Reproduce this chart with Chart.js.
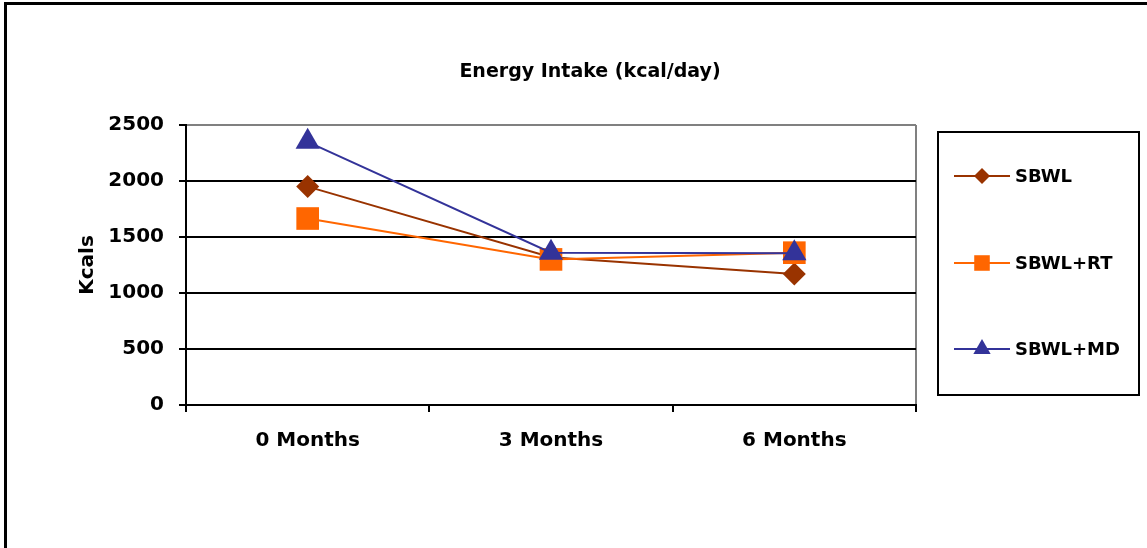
<!DOCTYPE html>
<html>
<head>
<meta charset="utf-8">
<script src="https://cdn.jsdelivr.net/npm/chart.js@4/dist/chart.umd.min.js"></script>
<style>
  html, body { margin: 0; padding: 0; background: #fff; }
  #wrap { position: relative; width: 1147px; height: 548px; overflow: hidden; }
  #frame { position: absolute; left: 4px; top: 2px; width: 1200px; height: 600px;
           border-top: 3px solid #000; border-left: 3px solid #000; pointer-events: none; }
  canvas { position: absolute; left: 0; top: 0; }
</style>
</head>
<body>
<div id="wrap">
  <canvas id="c" width="1147" height="548"></canvas>
  <div id="frame"></div>
</div>
<script>
// ---- data ----
const chartTitle = 'Energy Intake (kcal/day)';
const yAxisTitle = 'Kcals';
const categories = ['0 Months', '3 Months', '6 Months'];
const seriesNames = ['SBWL', 'SBWL+RT', 'SBWL+MD'];
const sbwl = [1950, 1320, 1170];
const sbwlRT = [1665, 1300, 1360];
const sbwlMD = [2350, 1360, 1355];
const yTicks = [0, 500, 1000, 1500, 2000, 2500];

const FONT = '"DejaVu Sans", sans-serif';

function fallbackPoint(ctx, style, r, x, y) {
  ctx.beginPath();
  if (style === 'rectRot') {
    ctx.moveTo(x - r, y); ctx.lineTo(x, y - r); ctx.lineTo(x + r, y); ctx.lineTo(x, y + r);
  } else if (style === 'rect') {
    const s = Math.SQRT1_2 * r; ctx.rect(x - s, y - s, 2 * s, 2 * s);
  } else {
    ctx.moveTo(x, y - r);
    ctx.lineTo(x + Math.sin(2 * Math.PI / 3) * r, y + 0.5 * r);
    ctx.lineTo(x - Math.sin(2 * Math.PI / 3) * r, y + 0.5 * r);
  }
  ctx.closePath();
  ctx.fill();
}

const titlePlugin = {
  id: 'customTitle',
  afterDraw(chart) {
    const ctx = chart.ctx;
    ctx.save();
    ctx.font = 'bold 19px ' + FONT;
    ctx.fillStyle = '#000';
    ctx.textAlign = 'center';
    ctx.textBaseline = 'alphabetic';
    ctx.fillText(chartTitle, 590, 77);
    ctx.restore();
  }
};

const legendPlugin = {
  id: 'customLegend',
  afterDraw(chart) {
    const ctx = chart.ctx;
    ctx.save();
    ctx.strokeStyle = '#000';
    ctx.lineWidth = 2;
    ctx.strokeRect(938, 132, 201, 263);
    const ys = [176, 263, 349];
    const legendRadius = { rectRot: 8, rect: 11, triangle: 10 };
    chart.data.datasets.forEach((ds, i) => {
      const y = ys[i];
      ctx.strokeStyle = ds.borderColor;
      ctx.lineWidth = 2;
      ctx.beginPath();
      ctx.moveTo(954, y); ctx.lineTo(1010, y); ctx.stroke();
      ctx.fillStyle = ds.pointBackgroundColor;
      const r = legendRadius[ds.pointStyle];
      if (Chart.helpers && Chart.helpers.drawPoint) {
        Chart.helpers.drawPoint(ctx, { pointStyle: ds.pointStyle, radius: r, rotation: 0, borderWidth: 0 }, 982, y);
      } else {
        fallbackPoint(ctx, ds.pointStyle, r, 982, y);
      }
      ctx.fillStyle = '#000';
      ctx.font = 'bold 18px ' + FONT;
      ctx.textAlign = 'left';
      ctx.textBaseline = 'middle';
      ctx.fillText(ds.label, 1015, y + 1);
    });
    ctx.restore();
  }
};

function makeDataset(label, data, color, style, radius, order) {
  return {
    label, data,
    borderColor: color, backgroundColor: color,
    pointBackgroundColor: color, pointBorderColor: color,
    pointStyle: style, pointRadius: radius, pointHoverRadius: radius,
    pointBorderWidth: 0, borderWidth: 2, tension: 0, order
  };
}

new Chart(document.getElementById('c'), {
  type: 'line',
  data: {
    labels: categories,
    datasets: [
      makeDataset(seriesNames[0], sbwl, '#993300', 'rectRot', 11.5, 3),
      makeDataset(seriesNames[1], sbwlRT, '#FF6600', 'rect', 16, 2),
      makeDataset(seriesNames[2], sbwlMD, '#333399', 'triangle', 14, 1)
    ]
  },
  options: {
    responsive: false,
    animation: false,
    events: [],
    layout: { padding: { top: 125, left: 76, right: 231, bottom: 0 } },
    plugins: { legend: { display: false }, title: { display: false }, tooltip: { enabled: false } },
    scales: {
      x: {
        offset: true,
        grid: {
          offset: true,
          drawOnChartArea: true,
          color: (ctx) => ctx.type === 'scale' ? '#808080' : 'rgba(0,0,0,0)',
          tickColor: '#000',
          lineWidth: 2,
          tickLength: 7
        },
        border: { display: true, color: '#000', width: 2 },
        ticks: { color: '#000', font: { family: FONT, size: 20, weight: 'bold' }, padding: 17, maxRotation: 0 },
        afterFit(scale) { scale.height = 548 - 405; }
      },
      y: {
        min: 0, max: 2500,
        afterBuildTicks(scale) { scale.ticks = yTicks.map(v => ({ value: v })); },
        grid: {
          color: (ctx) => (ctx.tick && ctx.tick.value === 2500) ? '#808080' : '#000',
          tickColor: '#000',
          lineWidth: 2,
          tickLength: 7
        },
        border: { display: true, color: '#000', width: 2 },
        ticks: {
          color: '#000', font: { family: FONT, size: 20, weight: 'bold' }, padding: 15,
          callback: (v) => String(v)
        },
        title: { display: true, text: yAxisTitle, color: '#000', font: { family: FONT, size: 20, weight: 'bold' }, padding: { top: 0, bottom: 0 } },
        afterFit(scale) { scale.width = 186 - 76; }
      }
    }
  },
  plugins: [titlePlugin, legendPlugin]
});
</script>
</body>
</html>
